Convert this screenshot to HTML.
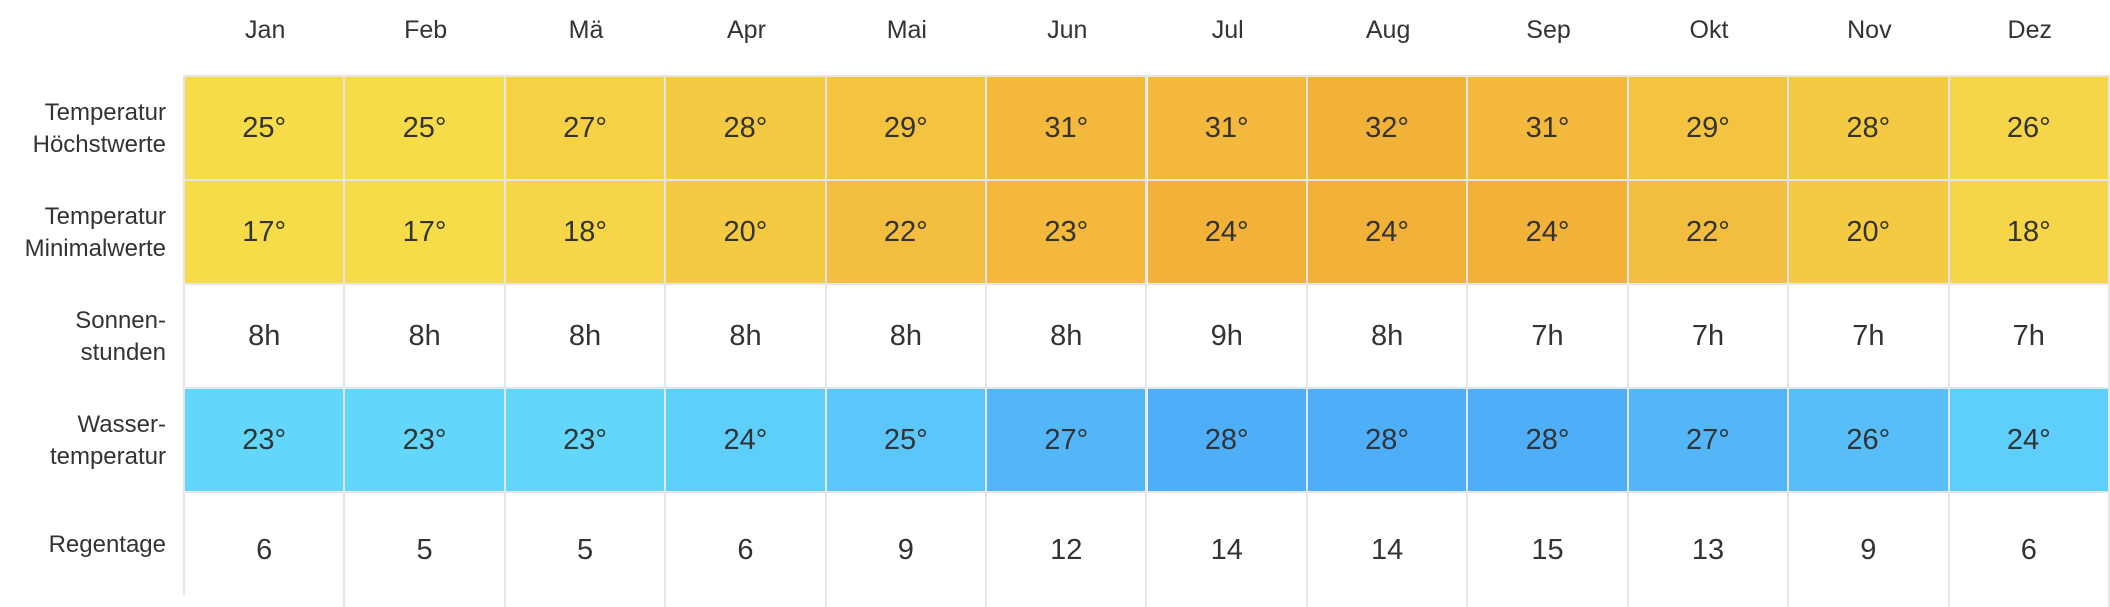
<!DOCTYPE html>
<html><head><meta charset="utf-8">
<style>
html,body{margin:0;padding:0;background:#fff;}
body{width:2110px;height:596px;position:relative;overflow:hidden;font-family:"Liberation Sans",sans-serif;color:#333;}
.m{position:absolute;top:0;height:70px;line-height:60px;text-align:center;font-size:25px;color:#333;}
.lab{position:absolute;left:0;width:166px;text-align:right;font-size:24px;line-height:32px;display:flex;flex-direction:column;justify-content:center;color:#333;}
.c{position:absolute;box-sizing:border-box;display:flex;align-items:center;justify-content:center;font-size:29px;color:#333;border-right:2px solid #e6e6e6;border-bottom:2px solid #e6e6e6;}
</style></head>
<body>
<script>
const months=["Jan","Feb","Mä","Apr","Mai","Jun","Jul","Aug","Sep","Okt","Nov","Dez"];
const rowLabels=[["Temperatur","Höchstwerte"],["Temperatur","Minimalwerte"],["Sonnen-","stunden"],["Wasser-","temperatur"],["Regentage"]];
const tempMax=[25,25,27,28,29,31,31,32,31,29,28,26];
const tempMin=[17,17,18,20,22,23,24,24,24,22,20,18];
const sunHours=[8,8,8,8,8,8,9,8,7,7,7,7];
const waterTemp=[23,23,23,24,25,27,28,28,28,27,26,24];
const rainDays=[6,5,5,6,9,12,14,14,15,13,9,6];

const X0=185, CW=(2110-185)/12, Y0=77, RH=104;
function mix(a,b,t){t=Math.max(0,Math.min(1,t));return 'rgb('+a.map((v,i)=>Math.round(v+(b[i]-v)*t)).join(',')+')';}
function warm(v){return mix([247,220,74],[242,178,58],(v-17)/(24-17));}
function warmHi(v){return mix([247,220,74],[242,178,58],(v-25)/(32-25));}
function cool(v){return mix([98,214,251],[79,174,248],(v-23)/(28-23));}
const rows=[
 {vals:tempMax,fmt:v=>v+'°',col:warmHi,name:'temp-max'},
 {vals:tempMin,fmt:v=>v+'°',col:warm,name:'temp-min'},
 {vals:sunHours,fmt:v=>v+'h',col:()=>'#fff',name:'sun-hours'},
 {vals:waterTemp,fmt:v=>v+'°',col:cool,name:'water-temp'},
 {vals:rainDays,fmt:v=>''+v,col:()=>'#fff',name:'rain-days'}
];
months.forEach((m,i)=>{
 const d=document.createElement('div');d.className='m';
 
 
 d.style.left=(X0+i*CW)+'px';d.style.width=CW+'px';d.textContent=m;document.body.appendChild(d);
});
// top border line
const tl=document.createElement('div');


tl.style.cssText='position:absolute;left:'+X0+'px;top:'+(Y0-2)+'px;width:'+(2110-X0)+'px;height:2px;background:#e6e6e6';
document.body.appendChild(tl);
const ll=document.createElement('div');


ll.style.cssText='position:absolute;left:'+(X0-2)+'px;top:'+(Y0-2)+'px;width:2px;height:'+(596-Y0+2)+'px;background:#e6e6e6';
document.body.appendChild(ll);
rows.forEach((r,ri)=>{
 const l=document.createElement('div');l.className='lab';
 
 
 l.style.top=(Y0+ri*RH)+'px';l.style.height=RH+'px';
 l.innerHTML=rowLabels[ri].map(s=>'<span>'+s+'</span>').join('');
 document.body.appendChild(l);
 r.vals.forEach((v,i)=>{
  const c=document.createElement('div');c.className='c';
  
  
  c.style.left=(X0+i*CW)+'px';c.style.top=(Y0+ri*RH)+'px';
  c.style.width=CW+'px';c.style.height=(ri==4?RH+10:RH)+'px';
  c.style.background=r.col(v);
  if(ri==4)c.style.borderBottom='none';
  c.textContent=r.fmt(v);document.body.appendChild(c);
 });
});
</script>
</body></html>
